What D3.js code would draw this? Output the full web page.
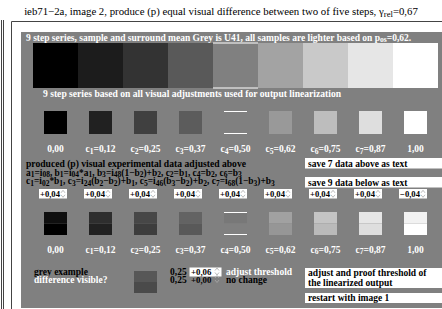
<!DOCTYPE html>
<html>
<head>
<meta charset="utf-8">
<script src="https://cdn.jsdelivr.net/npm/d3@7"></script>
<style>
  body { margin: 0; background: #fff; }
  text { font-family: "Liberation Serif", "Times New Roman", serif; }
</style>
</head>
<body>
<div id="chart"></div>
<script>
// chart data
let titleText = 'ieb71\u22122a, image 2, produce (p) equal visual difference between two of five steps, \u03b3{rel}=0,67';
let heading1 = '9 step series, sample and surround mean Grey is U41, all samples are lighter based on p{os}=0,62.';
let heading2 = '9 step series based on all visual adjustments used for output linearization';

let steps = [0, 1, 2, 3, 4, 5, 6, 7, 8];
let stripGrey = [0.00, 0.11, 0.20, 0.35, 0.50, 0.64, 0.79, 0.90, 1.00];
let row1Grey = [0.00, 0.13, 0.25, 0.36, 0.50, 0.60, 0.74, 0.87, 1.00];
let row2Top = [0.06, 0.18, 0.28, 0.39, 0.47, 0.63, 0.77, 0.90, 0.95];
let row2Bottom = [0.00, 0.13, 0.24, 0.35, 0.50, 0.59, 0.73, 0.87, 1.00];
let stepLabels = ['0,00', 'c{1}=0,12', 'c{2}=0,25', 'c{3}=0,37', 'c{4}=0,50',
  'c{5}=0,62', 'c{6}=0,75', 'c{7}=0,87', '1,00'];
let inputValues = ['+0,04', '+0,04', '+0,04', '+0,04', '+0,04', '+0,04', '+0,04', '+0,04', '\u22120,04'];
let formulaLines = [
  'produced (p) visual experimental data adjusted above',
  'a{1}=i{08}, b{1}=i{04}*a{1}, b{3}=i{48}(1\u2212b{2})+b{2}, c{2}=b{1}, c{4}=b{2}, c{6}=b{3}',
  'c{1}=i{02}*b{1}, c{3}=i{24}(b{2}\u2212b{2})+b{1}, c{5}=i{46}(b{3}\u2212b{2})+b{2}, c{7}=i{68}(1\u2212b{3})+b{3}'
];
let exampleGrey = [0.34, 0.29];

let svgWidth = 442;
let svgHeight = 309;
let fs = 9.5;

let svg = d3.select('#chart').append('svg')
  .attr('width', svgWidth)
  .attr('height', svgHeight);

// scales
let xBand = d3.scaleBand().domain(steps).range([33, 438]);
let grey = d3.scaleLinear().domain([0, 1]).range(['#000000', '#ffffff']);
let colCenter = i => xBand(i) + xBand.bandwidth() / 2;
let bg = grey(0.5);

// write text with {subscript} markup
function rich(sel, str, size) {
  let parts = str.split(/(\{[^}]*\})/).filter(p => p.length);
  let down = false;
  let shift = size * 0.2;
  parts.forEach(p => {
    if (p[0] === '{') {
      sel.append('tspan').attr('dy', down ? 0 : shift)
        .attr('font-size', size * 0.8).text(p.slice(1, -1));
      down = true;
    } else {
      sel.append('tspan').attr('dy', down ? -shift : 0).text(p);
      down = false;
    }
  });
  return sel;
}

function label(x, y, str, opts) {
  let t = svg.append('text')
    .attr('x', x)
    .attr('y', y)
    .attr('font-size', opts.size)
    .attr('font-weight', opts.bold ? 'bold' : 'normal')
    .attr('fill', opts.fill || '#000')
    .attr('text-anchor', opts.anchor || 'start');
  return rich(t, str, opts.size);
}

// spinner glyph of an input field
function spinner(x, y) {
  svg.append('path')
    .attr('d', `M${x - 2},${y - 1} L${x},${y - 3.5} L${x + 2},${y - 1} M${x - 2},${y + 1} L${x},${y + 3.5} L${x + 2},${y + 1}`)
    .attr('fill', 'none')
    .attr('stroke', '#aaa')
    .attr('stroke-width', 0.8);
}

// title
label(221, 15, titleText, { size: 10.8, anchor: 'middle' });

// frame lines
let frame = svg.append('g').attr('stroke', '#444').attr('stroke-width', 1).attr('fill', 'none');
frame.append('line').attr('x1', 1.5).attr('x2', 1.5).attr('y1', 20).attr('y2', svgHeight);
frame.append('line').attr('x1', 3.5).attr('x2', 3.5).attr('y1', 20).attr('y2', svgHeight);
frame.append('path').attr('d', `M11.5,${svgHeight} V21.5 H${svgWidth}`);

// grey panel
svg.append('rect')
  .attr('x', 21).attr('y', 32)
  .attr('width', svgWidth - 21).attr('height', 276)
  .attr('fill', bg);

label(26, 40.5, heading1, { size: 9.5, bold: true, fill: '#fff' });

// 9 step strip
svg.selectAll('.strip')
  .data(steps)
  .enter()
  .append('rect')
  .attr('x', d => xBand(d))
  .attr('y', 43)
  .attr('width', xBand.bandwidth())
  .attr('height', 45)
  .attr('fill', d => grey(stripGrey[d]));

// white edges of the middle step
[43, 88].forEach(y => {
  svg.append('line')
    .attr('x1', xBand(4)).attr('x2', xBand(4) + xBand.bandwidth())
    .attr('y1', y).attr('y2', y)
    .attr('stroke', '#fff').attr('stroke-width', 1);
});

label(43, 96.5, heading2, { size: 9.6, bold: true, fill: '#fff' });

// row 1 squares
let sq = 23;
svg.selectAll('.row1')
  .data(steps)
  .enter()
  .append('rect')
  .attr('x', d => colCenter(d) - sq / 2)
  .attr('y', 111)
  .attr('width', sq)
  .attr('height', sq)
  .attr('fill', d => grey(row1Grey[d]));

[111, 133].forEach(y => {
  svg.append('line')
    .attr('x1', colCenter(4) - sq / 2).attr('x2', colCenter(4) + sq / 2)
    .attr('y1', y + 0.5).attr('y2', y + 0.5)
    .attr('stroke', '#fff').attr('stroke-width', 1);
});

steps.forEach(i => label(colCenter(i), 152, stepLabels[i], { size: fs, bold: true, fill: '#fff', anchor: 'middle' }));

// formula text
label(26, 166.5, formulaLines[0], { size: 9.6, bold: true });
label(26, 175.5, formulaLines[1], { size: 9.4, bold: true });
label(26, 184, formulaLines[2], { size: 9.4, bold: true });

// save buttons
[[158, 'save 7 data above as text'], [177, 'save 9 data below as text']].forEach(b => {
  svg.append('rect').attr('x', 305).attr('y', b[0]).attr('width', 137).attr('height', 10.5).attr('fill', '#fff');
  label(308, b[0] + 8.5, b[1], { size: fs, bold: true });
});

// input fields
steps.forEach(i => {
  let cx = colCenter(i);
  svg.append('rect')
    .attr('x', cx - 16.5).attr('y', 189)
    .attr('width', 28).attr('height', 9.5)
    .attr('fill', '#fff');
  label(cx - 15.5, 197, inputValues[i], { size: 8.6, bold: true });
  spinner(cx + 7.5, 193.8);
});

// row 2 squares, split in two halves
svg.selectAll('.row2top')
  .data(steps)
  .enter()
  .append('rect')
  .attr('x', d => colCenter(d) - sq / 2)
  .attr('y', 212)
  .attr('width', sq)
  .attr('height', sq / 2)
  .attr('fill', d => grey(row2Top[d]));

svg.selectAll('.row2bottom')
  .data(steps)
  .enter()
  .append('rect')
  .attr('x', d => colCenter(d) - sq / 2)
  .attr('y', 212 + sq / 2)
  .attr('width', sq)
  .attr('height', sq / 2)
  .attr('fill', d => grey(row2Bottom[d]));

[212, 234].forEach(y => {
  svg.append('line')
    .attr('x1', colCenter(4) - sq / 2).attr('x2', colCenter(4) + sq / 2)
    .attr('y1', y + 0.5).attr('y2', y + 0.5)
    .attr('stroke', '#fff').attr('stroke-width', 1);
});

steps.forEach(i => label(colCenter(i), 252.5, stepLabels[i], { size: fs, bold: true, fill: '#fff', anchor: 'middle' }));

// grey example
label(34, 275, 'grey example', { size: fs, bold: true });
label(34, 282.5, 'difference visible?', { size: fs, bold: true, fill: '#fff' });

svg.append('rect').attr('x', 134).attr('y', 271).attr('width', sq).attr('height', 11).attr('fill', grey(exampleGrey[0]));
svg.append('rect').attr('x', 134).attr('y', 282).attr('width', sq).attr('height', 11).attr('fill', grey(exampleGrey[1]));

label(170, 275, '0,25', { size: fs, bold: true });
svg.append('rect').attr('x', 189.5).attr('y', 267.5).attr('width', 32).attr('height', 9).attr('fill', '#fff');
label(191, 275, '+0,06', { size: 8.8, bold: true });
spinner(217, 271.5);
label(226, 275, 'adjust threshold', { size: fs, bold: true, fill: '#fff' });

label(170, 282.5, '0,25', { size: fs, bold: true });
label(191, 282.5, '+0,00', { size: 8.8, bold: true });
spinner(217, 279);
label(226, 282.5, 'no change', { size: fs, bold: true });

svg.append('rect').attr('x', 305).attr('y', 268).attr('width', 137).attr('height', 20).attr('fill', '#fff');
label(308, 276, 'adjust and proof threshold of', { size: fs, bold: true });
label(308, 285.5, 'the linearized output', { size: fs, bold: true });

svg.append('rect').attr('x', 305).attr('y', 293).attr('width', 137).attr('height', 10).attr('fill', '#fff');
label(308, 301, 'restart with image 1', { size: fs, bold: true });
</script>
</body>
</html>
